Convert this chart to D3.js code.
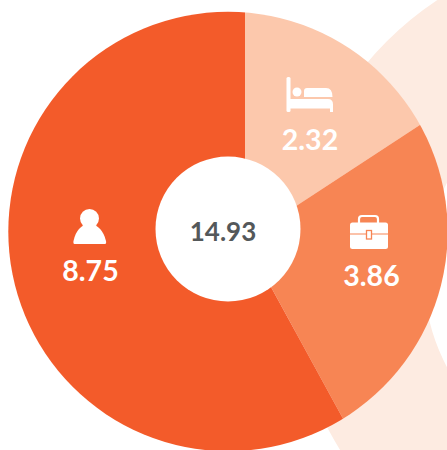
<!DOCTYPE html>
<html><head><meta charset="utf-8">
<script src="https://cdn.jsdelivr.net/npm/d3@7"></script>
<style>html,body{margin:0;padding:0;background:#fff}svg{display:block}text{font-family:Lato,sans-serif}</style>
</head><body><svg id="c" width="447" height="450"></svg>
<script>
const categories = ["lodging","business","personal"];
const values = [2.32,3.86,8.75];
const valueLabels = ["2.32","3.86","8.75"];
const totalLabel = "14.93";
const colors = ["#fcc8ac","#f78554","#f35b2a"];

const svg = d3.select("#c");
const disc = {x:228,y:231.5,r:219.7};
const apex = {x:245,y:239.5};
const hole = {x:228,y:229,r:72.5};
const TAU = 2*Math.PI;
const stretch = 1.0155; // the reference's wedges run slightly wider than a true share of the circle

// background ring
svg.append("path")
  .attr("transform","translate(620,275)")
  .attr("fill","#fdebe1")
  .attr("d",d3.arc()({innerRadius:196,outerRadius:330,startAngle:0,endAngle:TAU}));

svg.append("clipPath").attr("id","disc").append("circle")
  .attr("cx",disc.x).attr("cy",disc.y).attr("r",disc.r);

const pie = d3.pie().sort(null).value(d=>d);
const arc = d3.arc().innerRadius(0).outerRadius(600)
  .startAngle(d=>d.startAngle*stretch)
  .endAngle(d=>Math.min(d.endAngle*stretch,TAU));
svg.append("g").attr("clip-path","url(#disc)")
  .append("g").attr("transform",`translate(${apex.x},${apex.y})`)
  .selectAll("path").data(pie(values)).join("path")
  .attr("d",arc).attr("fill",(d,i)=>colors[i]);

svg.append("circle").attr("cx",hole.x).attr("cy",hole.y).attr("r",hole.r).attr("fill","#fff");

// value labels
const labelPos = [[310,150],[371.5,285.5],[90.5,280.5]];
svg.selectAll("text.v").data(valueLabels).join("text").attr("class","v")
  .attr("x",(d,i)=>labelPos[i][0]).attr("y",(d,i)=>labelPos[i][1])
  .attr("text-anchor","middle").attr("fill","#fff")
  .attr("font-size",28.5).attr("font-weight",700).text(d=>d);

svg.append("text").attr("x",223).attr("y",241).attr("text-anchor","middle")
  .attr("fill","#54585a").attr("font-size",26).attr("font-weight",700).text(totalLabel);

// icons
const bed = svg.append("g").attr("fill","#fff");
bed.append("rect").attr("x",286.5).attr("y",77).attr("width",4).attr("height",35).attr("rx",1.5);
bed.append("circle").attr("cx",297).attr("cy",92).attr("r",4.5);
bed.append("path").attr("d","M304 97V91q0-3 3-3h19q6.500 0 6.500 9z");
bed.append("path").attr("d","M289 99H328q5 0 5 5.500V112h-3V108.500H289z");

const brief = svg.append("g");
brief.append("path").attr("fill","none").attr("stroke","#fff").attr("stroke-width",2.2)
  .attr("d","M359 224v-5q0-3 3-3h13q3 0 3 3v5");
brief.append("rect").attr("x",350).attr("y",222.5).attr("width",38).attr("height",26.5).attr("rx",2.5).attr("fill","#fff");
brief.append("line").attr("x1",350).attr("x2",388).attr("y1",234).attr("y2",234).attr("stroke","#f78554").attr("stroke-width",1);
brief.append("rect").attr("x",366.5).attr("y",230.5).attr("width",5).attr("height",8.5).attr("fill","#fff").attr("stroke","#f78554").attr("stroke-width",1.3);

const person = svg.append("g").attr("fill","#fff");
person.append("circle").attr("cx",89.5).attr("cy",218.5).attr("r",9.5);
person.append("path").attr("d","M74.500 244q-1.500 0-1-3q3-15 16-18q13 3 16.500 18q.5 3-1 3z");
</script></body></html>
